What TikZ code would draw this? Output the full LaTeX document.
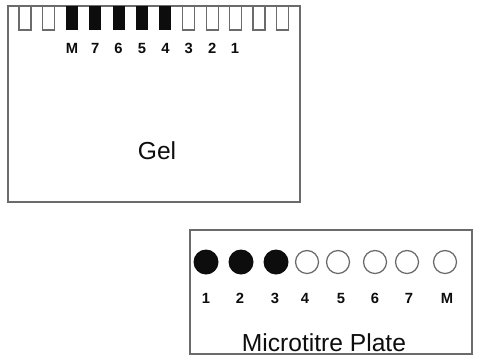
\documentclass[tikz,border=0pt]{standalone}
\usepackage{fontspec}
\setmainfont{Liberation Sans}
\definecolor{mygray}{rgb}{0.42,0.42,0.42}
\definecolor{myblack}{rgb}{0.05,0.05,0.05}
\begin{document}
\begin{tikzpicture}[x=0.025cm,y=-0.025cm,
    lane/.style={font=\fontsize{10.5}{12}\selectfont\bfseries,text=myblack},
    title/.style={font=\fontsize{17.5}{20}\selectfont,text=myblack}]
  \useasboundingbox (0,0) rectangle (478,356);
  \def\wy{6}\def\wb{30}\def\ww{12}
  % the gel and its row of wells
  \draw[mygray,line width=1pt] (8,6) rectangle (300,202);
  \draw[mygray,line width=0.9pt] (19,\wy) -- (19,\wb) -- (19+\ww,\wb) -- (19+\ww,\wy);
  \draw[mygray,line width=0.9pt] (42.4,\wy) -- (42.4,\wb) -- (42.4+\ww,\wb) -- (42.4+\ww,\wy);
  \fill[myblack] (65.8,\wy) rectangle (65.8+\ww,\wb);
  \fill[myblack] (89.2,\wy) rectangle (89.2+\ww,\wb);
  \fill[myblack] (112.6,\wy) rectangle (112.6+\ww,\wb);
  \fill[myblack] (136,\wy) rectangle (136+\ww,\wb);
  \fill[myblack] (159.4,\wy) rectangle (159.4+\ww,\wb);
  \draw[mygray,line width=0.9pt] (182.8,\wy) -- (182.8,\wb) -- (182.8+\ww,\wb) -- (182.8+\ww,\wy);
  \draw[mygray,line width=0.9pt] (206.2,\wy) -- (206.2,\wb) -- (206.2+\ww,\wb) -- (206.2+\ww,\wy);
  \draw[mygray,line width=0.9pt] (229.6,\wy) -- (229.6,\wb) -- (229.6+\ww,\wb) -- (229.6+\ww,\wy);
  \draw[mygray,line width=0.9pt] (253,\wy) -- (253,\wb) -- (253+\ww,\wb) -- (253+\ww,\wy);
  \draw[mygray,line width=0.9pt] (276.4,\wy) -- (276.4,\wb) -- (276.4+\ww,\wb) -- (276.4+\ww,\wy);
  \node[lane] (gM) at (72,48) {M};
  \node[lane] (g7) at (95.2,48) {7};
  \node[lane] (g6) at (118.6,48) {6};
  \node[lane] (g5) at (142,48) {5};
  \node[lane] (g4) at (165.4,48) {4};
  \node[lane] (g3) at (188.8,48) {3};
  \node[lane] (g2) at (212.2,48) {2};
  \node[lane] (g1) at (235,48) {1};
  \node[title] (gel) at (157,151) {Gel};
  % the microtitre plate: three loaded wells, five empty
  \draw[mygray,line width=1pt] (190,230) rectangle (472,354);
  \fill[myblack] (206,262) circle (12.5);
  \fill[myblack] (241,262) circle (12.5);
  \fill[myblack] (276,262) circle (12.5);
  \draw[mygray,line width=0.9pt] (307,262) circle (11.5);
  \draw[mygray,line width=0.9pt] (338,262) circle (11.5);
  \draw[mygray,line width=0.9pt] (375,262) circle (11.5);
  \draw[mygray,line width=0.9pt] (407,262) circle (11.5);
  \draw[mygray,line width=0.9pt] (445,262) circle (11.5);
  \node[lane] (p1) at (206,298) {1};
  \node[lane] (p2) at (240,298) {2};
  \node[lane] (p3) at (275,298) {3};
  \node[lane] (p4) at (305,298) {4};
  \node[lane] (p5) at (341,298) {5};
  \node[lane] (p6) at (375,298) {6};
  \node[lane] (p7) at (409,298) {7};
  \node[lane] (pM) at (447,298) {M};
  \node[title] (plate) at (324,343) {Microtitre Plate};
\end{tikzpicture}
\end{document}
